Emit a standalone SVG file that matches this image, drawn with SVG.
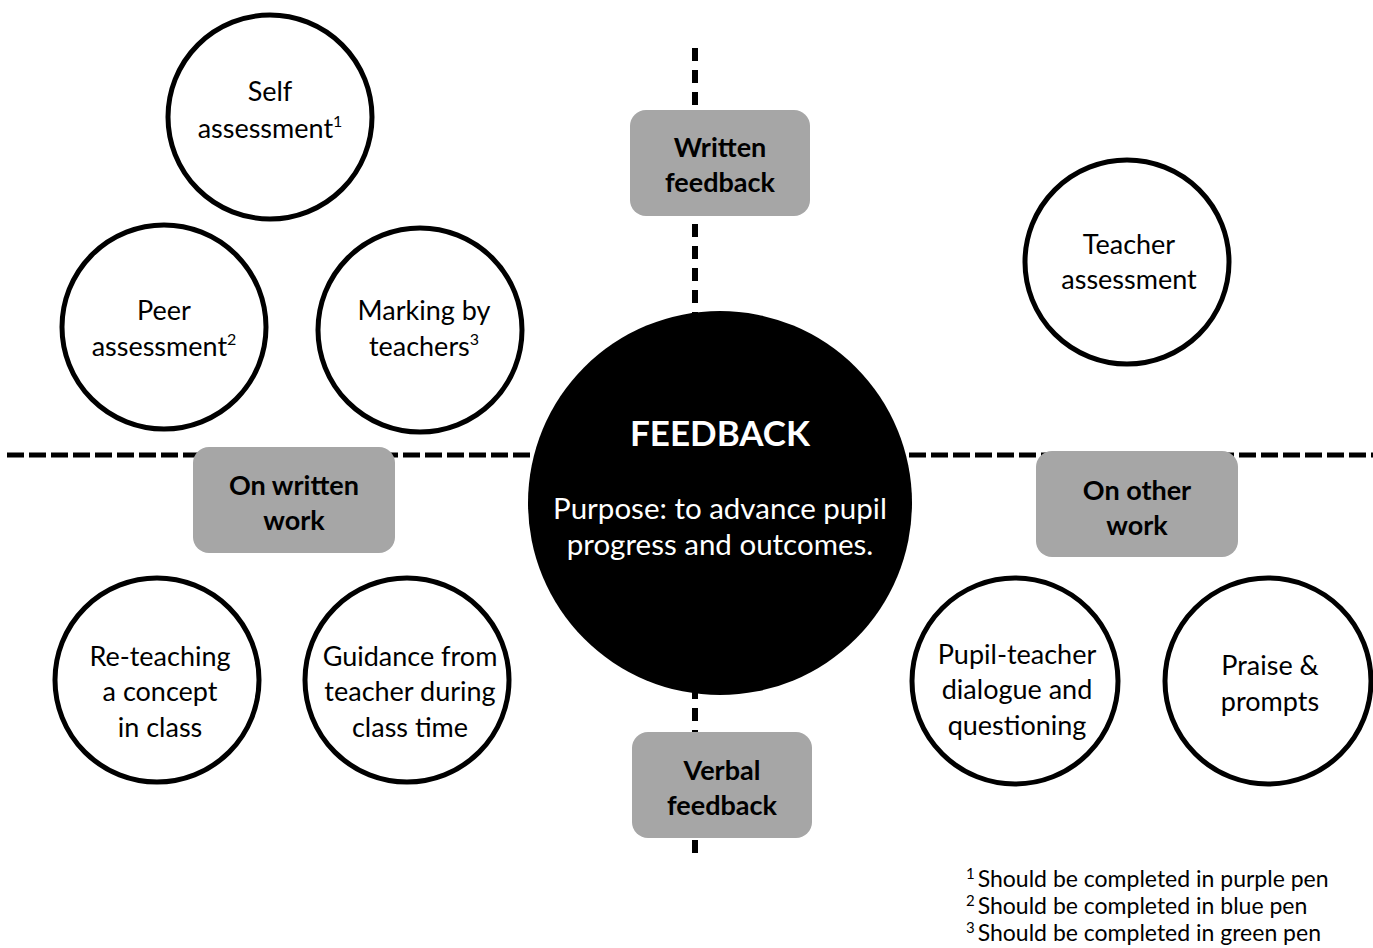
<svg xmlns="http://www.w3.org/2000/svg" width="1373" height="948" viewBox="0 0 1373 948">
<style>
.bg{fill:#ffffff}
.dash-h{stroke:#000;stroke-width:5;stroke-dasharray:17 5;fill:none}
.dash-v{stroke:#000;stroke-width:6;stroke-dasharray:13 9;fill:none}
.node{fill:#fff;stroke:#000;stroke-width:5}
.box{fill:#a6a6a6}
.t{font-family:Lato,"Liberation Sans",sans-serif;font-size:27px;fill:#000;text-anchor:middle}
.tb{font-family:Lato,"Liberation Sans",sans-serif;font-size:27px;font-weight:bold;fill:#000;text-anchor:middle}
.sup{font-size:16px}
.hub{fill:#000}
.hubt{font-family:Lato,"Liberation Sans",sans-serif;font-size:35px;font-weight:bold;fill:#fff;text-anchor:middle}
.hubs{font-family:Lato,"Liberation Sans",sans-serif;font-size:29.5px;fill:#fff;text-anchor:middle}
.fn{font-family:Lato,"Liberation Sans",sans-serif;font-size:23px;fill:#000}
.fns{font-size:15px}
</style>
<rect class="bg" x="0" y="0" width="1373" height="948"/>
<g id="connectors">
<line class="dash-v" x1="695" y1="48" x2="695" y2="862"/>
<line class="dash-h" x1="7" y1="455" x2="1373" y2="455"/>
</g>
<g id="self-assessment">
<circle class="node" cx="270" cy="117" r="102"/>
<text class="t" x="270" y="101">Self</text>
<text class="t" x="270" y="138">assessment<tspan class="sup" dy="-11">1</tspan></text>
</g>
<g id="peer-assessment">
<circle class="node" cx="164" cy="327" r="102"/>
<text class="t" x="164" y="320">Peer</text>
<text class="t" x="164" y="356">assessment<tspan class="sup" dy="-11">2</tspan></text>
</g>
<g id="marking-by-teachers">
<circle class="node" cx="420" cy="330" r="102"/>
<text class="t" x="424" y="320">Marking by</text>
<text class="t" x="424" y="356">teachers<tspan class="sup" dy="-11">3</tspan></text>
</g>
<g id="teacher-assessment">
<circle class="node" cx="1127" cy="262" r="102"/>
<text class="t" x="1129" y="254">Teacher</text>
<text class="t" x="1129" y="289">assessment</text>
</g>
<g id="re-teaching">
<circle class="node" cx="157" cy="680" r="102"/>
<text class="t" x="160" y="666">Re-teaching</text>
<text class="t" x="160" y="701">a concept</text>
<text class="t" x="160" y="737">in class</text>
</g>
<g id="guidance">
<circle class="node" cx="407" cy="680" r="102"/>
<text class="t" x="410" y="666">Guidance from</text>
<text class="t" x="410" y="701">teacher during</text>
<text class="t" x="410" y="737">class time</text>
</g>
<g id="pupil-teacher">
<circle class="node" cx="1015" cy="681" r="103"/>
<text class="t" x="1017" y="664">Pupil-teacher</text>
<text class="t" x="1017" y="699">dialogue and</text>
<text class="t" x="1017" y="735">questioning</text>
</g>
<g id="praise">
<circle class="node" cx="1268" cy="681" r="103"/>
<text class="t" x="1270" y="675">Praise &amp;</text>
<text class="t" x="1270" y="711">prompts</text>
</g>
<g id="feedback">
<circle class="hub" cx="720" cy="503" r="192"/>
<text class="hubt" x="720" y="446">FEEDBACK</text>
<text class="hubs" x="720" y="519">Purpose: to advance pupil</text>
<text class="hubs" x="720" y="555">progress and outcomes.</text>
</g>
<g id="written-feedback">
<rect class="box" x="630" y="110" width="180" height="106" rx="16"/>
<text class="tb" x="720" y="157">Written</text>
<text class="tb" x="720" y="192">feedback</text>
</g>
<g id="verbal-feedback">
<rect class="box" x="632" y="732" width="180" height="106" rx="16"/>
<text class="tb" x="722" y="780">Verbal</text>
<text class="tb" x="722" y="815">feedback</text>
</g>
<g id="on-written-work">
<rect class="box" x="193" y="447" width="202" height="106" rx="16"/>
<text class="tb" x="294" y="495">On written</text>
<text class="tb" x="294" y="530">work</text>
</g>
<g id="on-other-work">
<rect class="box" x="1036" y="451" width="202" height="106" rx="16"/>
<text class="tb" x="1137" y="500">On other</text>
<text class="tb" x="1137" y="535">work</text>
</g>
<g id="footnotes">
<text class="fn" x="966" y="887"><tspan class="fns" dy="-8">1</tspan><tspan dx="3" dy="8">Should be completed in purple pen</tspan></text>
<text class="fn" x="966" y="914"><tspan class="fns" dy="-8">2</tspan><tspan dx="3" dy="8">Should be completed in blue pen</tspan></text>
<text class="fn" x="966" y="941"><tspan class="fns" dy="-8">3</tspan><tspan dx="3" dy="8">Should be completed in green pen</tspan></text>
</g>
</svg>
